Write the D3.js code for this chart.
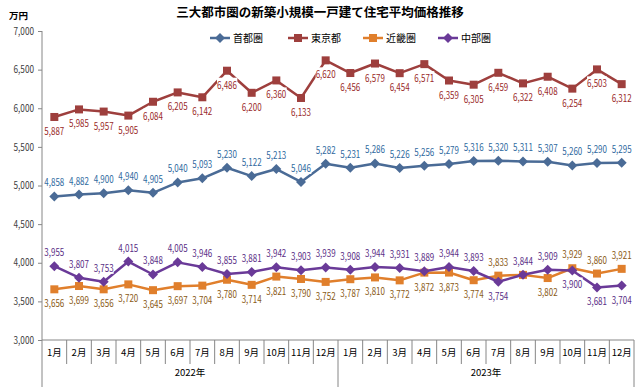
<!DOCTYPE html>
<html>
<head>
<meta charset="utf-8">
<script src="https://cdn.jsdelivr.net/npm/d3@7"></script>
<style>
  body { margin: 0; background: #fff; }
  text { font-family: "Noto Sans CJK JP", "Noto Sans", sans-serif; }
</style>
</head>
<body>
<script>
// data
var years = ["2022年", "2023年"];
var months = ["1月","2月","3月","4月","5月","6月","7月","8月","9月","10月","11月","12月"];
var seriesNames = ["首都圏", "東京都", "近畿圏", "中部圏"];
var shutoken = [4858,4882,4900,4940,4905,5040,5093,5230,5122,5213,5046,5282,
                5231,5286,5226,5256,5279,5316,5320,5311,5307,5260,5290,5295];
var tokyo = [5887,5985,5957,5905,6084,6205,6142,6486,6200,6360,6133,6620,
             6456,6579,6454,6571,6359,6305,6459,6322,6408,6254,6503,6312];
var kinki = [3656,3699,3656,3720,3645,3697,3704,3780,3714,3821,3790,3752,
             3787,3810,3772,3872,3873,3774,3833,3843,3802,3929,3860,3921];
var chubu = [3955,3807,3753,4015,3848,4005,3946,3855,3881,3942,3903,3939,
             3908,3944,3931,3889,3944,3893,3754,3844,3909,3900,3681,3704];
var yTicks = [3000,3500,4000,4500,5000,5500,6000,6500,7000];

// label side per series: "a" above, "b" below
var kinkiSide = "bbbbbbbbbbbbbbbbbbaabaaa".split("");
var chubuSide = "aaaaaaaaaaaaaaaaaabaabbb".split("");

var series = [
  {name: seriesNames[0], values: shutoken, color: "#4a6b96", label: "#2f6aa0", marker: "diamond", side: d3.range(24).map(function(){ return "a"; })},
  {name: seriesNames[1], values: tokyo, color: "#9e3f3d", label: "#9a2a2a", marker: "square", side: d3.range(24).map(function(){ return "b"; })},
  {name: seriesNames[2], values: kinki, color: "#e07f2c", label: "#8a5a16", marker: "square", side: kinkiSide},
  {name: seriesNames[3], values: chubu, color: "#6a3a98", label: "#5a2e86", marker: "diamond", side: chubuSide}
];

var W = 640, H = 387;
var mLeft = 42, mRight = 634, mTop = 31, mBottom = 340;
var numFont = "'Open Sans', 'Noto Sans', sans-serif";

var svg = d3.select("body").append("svg")
  .attr("width", W).attr("height", H);

// squeeze numbers a bit, to look like a condensed font
function squeeze(sel, k) {
  sel.each(function() {
    var w = this.getComputedTextLength();
    d3.select(this).attr("textLength", w * k).attr("lengthAdjust", "spacingAndGlyphs");
  });
}

var cats = [];
years.forEach(function(y){ months.forEach(function(m){ cats.push(y + m); }); });

var x = d3.scaleBand().domain(cats).range([mLeft, mRight]);
var y = d3.scaleLinear().domain([3000, 7000]).range([mBottom, mTop]);

// title
svg.append("text").attr("x", 320).attr("y", 17)
  .attr("text-anchor", "middle").attr("font-size", 12.5).attr("font-weight", "bold")
  .attr("fill", "#000").text("三大都市圏の新築小規模一戸建て住宅平均価格推移");
svg.append("text").attr("x", 9).attr("y", 19)
  .attr("font-size", 9.5).attr("font-weight", "bold").attr("fill", "#000").text("万円");

// y axis
var yAxis = svg.append("g").attr("transform", "translate(" + mLeft + ",0)")
  .call(d3.axisLeft(y).tickValues(yTicks).tickSize(4).tickPadding(4).tickFormat(d3.format(",")));
yAxis.select(".domain").remove();
yAxis.selectAll(".tick line").attr("stroke", "#868686");
yAxis.selectAll(".tick text").attr("font-size", 10).attr("fill", "#404040")
  .attr("font-family", numFont).call(squeeze, 0.82);
svg.append("line").attr("x1", mLeft).attr("x2", mLeft).attr("y1", mTop).attr("y2", H)
  .attr("stroke", "#868686");

// x axis
svg.append("line").attr("x1", mLeft).attr("x2", mRight).attr("y1", mBottom).attr("y2", mBottom)
  .attr("stroke", "#868686");
cats.forEach(function(c, i) {
  var xb = x(c) + x.bandwidth();
  var isYearEnd = (i % 12 === 11);
  svg.append("line").attr("x1", xb).attr("x2", xb).attr("y1", mBottom)
    .attr("y2", isYearEnd ? H : 364).attr("stroke", "#868686");
  svg.append("text").attr("x", x(c) + x.bandwidth() / 2).attr("y", 356)
    .attr("text-anchor", "middle").attr("font-size", 9.5).attr("fill", "#000")
    .text(months[i % 12]);
});
years.forEach(function(yr, k) {
  var x0 = x(cats[k * 12]), x1 = x(cats[k * 12 + 11]) + x.bandwidth();
  svg.append("text").attr("x", (x0 + x1) / 2).attr("y", 376)
    .attr("text-anchor", "middle").attr("font-size", 9.5).attr("fill", "#000").text(yr);
});

var cx = function(i) { return x(cats[i]) + x.bandwidth() / 2; };

function drawMarker(g, type, px, py, color) {
  if (type === "square") {
    g.append("rect").attr("x", px - 4).attr("y", py - 4).attr("width", 8).attr("height", 8)
      .attr("fill", color);
  } else {
    g.append("path").attr("d", "M" + px + "," + (py - 5) + "L" + (px + 5) + "," + py +
      "L" + px + "," + (py + 5) + "L" + (px - 5) + "," + py + "Z").attr("fill", color);
  }
}

var line = d3.line().x(function(d, i){ return cx(i); }).y(function(d){ return y(d); });

// lines and markers
series.forEach(function(s) {
  var g = svg.append("g");
  g.append("path").datum(s.values).attr("d", line)
    .attr("fill", "none").attr("stroke", s.color).attr("stroke-width", 2.5)
    .attr("stroke-linejoin", "round");
  s.values.forEach(function(v, i) { drawMarker(g, s.marker, cx(i), y(v), s.color); });
});

// data labels on top with white backing
var fmt = d3.format(",");
var labelLayer = svg.append("g");
series.forEach(function(s) {
  s.values.forEach(function(v, i) {
    var ly = y(v) + (s.side[i] === "a" ? -10 : 18);
    var g = labelLayer.append("g");
    var t = g.append("text").attr("x", cx(i)).attr("y", ly)
      .attr("text-anchor", "middle").attr("font-size", 10)
      .attr("font-family", numFont)
      .attr("fill", s.label).text(fmt(v)).call(squeeze, 0.8);
    var bb = t.node().getBBox();
    g.insert("rect", "text").attr("x", bb.x).attr("y", bb.y + 1)
      .attr("width", bb.width).attr("height", bb.height - 2).attr("fill", "#fff");
  });
});

// legend
var legendX = [210, 288, 363, 438];
series.forEach(function(s, k) {
  var g = svg.append("g").attr("transform", "translate(" + legendX[k] + ",38)");
  g.append("line").attr("x1", 0).attr("x2", 20).attr("y1", 0).attr("y2", 0)
    .attr("stroke", s.color).attr("stroke-width", 2.5);
  drawMarker(g, s.marker, 10, 0, s.color);
  g.append("text").attr("x", 23).attr("y", 4).attr("font-size", 10).attr("fill", "#000")
    .text(s.name);
});
</script>
</body>
</html>
